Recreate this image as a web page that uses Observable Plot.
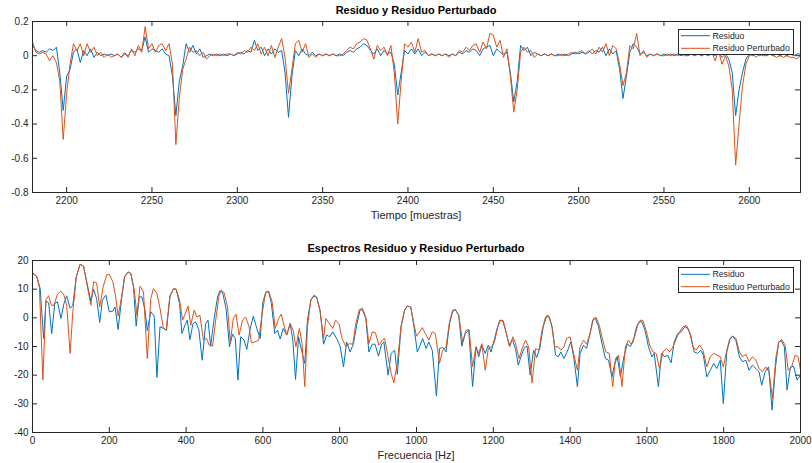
<!DOCTYPE html>
<html><head><meta charset="utf-8">
<script src="https://cdn.jsdelivr.net/npm/d3@7"></script>
<script src="https://cdn.jsdelivr.net/npm/@observablehq/plot@0.6"></script>
<style>
body{margin:0;background:#fff;}
#fig{position:relative;width:812px;height:463px;overflow:hidden;font-family:"Liberation Sans",Arial,Helvetica,sans-serif;color:#262626;background:#fff;}
.t{position:absolute;left:32px;width:768px;text-align:center;white-space:nowrap;line-height:12px;}
.title{font-weight:bold;font-size:11px;color:#000;}
.xl{font-size:11px;color:#262626;}
.plotwrap{position:absolute;left:0;}
#legend{position:absolute;left:0;top:0;pointer-events:none;}
</style></head>
<body><div id="fig">
<div class="plotwrap" id="p1" style="top:0"></div>
<div class="plotwrap" id="p2" style="top:230px"></div>
<div class="t title" style="top:4px">Residuo y Residuo Perturbado</div>
<div class="t xl" style="top:209px">Tiempo [muestras]</div>
<div class="t title" style="top:242px">Espectros Residuo y Residuo Perturbado</div>
<div class="t xl" style="top:449px">Frecuencia [Hz]</div>
<svg id="legend" width="812" height="463"></svg>
</div>
<script>
// ---------- Data ----------
const tiempoInicio = 2180, tiempoPaso = 2;
const residuo = [
 0.06,0.03,0.02,0.03,0.02,0.04,0.03,0.05,-0.10,-0.32,
 -0.12,-0.08,0.02,0.04,-0.04,0.03,0.00,0.04,-0.01,0.02,
 0.00,0.01,0.00,0.01,0.00,0.01,-0.01,0.01,0.00,0.03,
 0.02,0.04,0.03,0.11,0.02,0.04,0.03,0.02,0.04,0.01,
 0.00,-0.12,-0.35,-0.15,-0.06,0.07,0.02,0.06,0.01,0.04,
 -0.01,0.00,0.01,0.00,0.01,0.00,0.01,0.00,0.01,0.00,
 0.01,0.02,0.01,0.03,0.02,0.09,0.03,0.05,0.00,0.04,
 0.01,0.04,0.02,0.03,-0.10,-0.36,-0.12,0.03,0.00,0.04,
 0.01,0.00,0.02,0.00,0.01,0.00,0.01,0.00,0.01,0.00,
 0.01,0.00,0.02,0.03,0.02,0.04,0.05,0.07,0.06,0.03,
 0.01,0.04,0.00,0.03,0.01,0.02,-0.05,-0.23,-0.10,0.03,
 0.01,0.04,0.01,0.04,0.00,0.02,0.00,0.01,0.00,0.01,
 0.00,0.01,0.00,0.01,0.00,0.02,0.01,0.03,0.02,0.04,
 0.03,0.00,0.04,0.05,0.06,0.00,0.04,0.02,0.01,0.02,
 -0.10,-0.27,-0.15,0.06,0.03,0.05,0.00,0.02,0.01,0.00,
 0.01,0.00,0.01,0.00,0.01,0.00,0.01,0.00,0.01,0.02,
 0.01,0.02,0.01,0.03,0.01,0.03,0.02,0.05,0.00,0.04,
 0.01,0.03,-0.08,-0.25,-0.12,0.02,0.07,0.05,0.01,0.02,
 0.00,0.01,0.00,0.01,0.00,0.01,0.00,0.01,0.00,0.01,
 0.00,0.01,0.00,0.01,0.00,0.01,0.00,0.01,0.00,0.01,
 0.00,0.02,-0.01,0.01,-0.02,-0.10,-0.35,-0.20,-0.10,-0.02,
 0.01,0.00,0.01,0.00,0.01,0.00,0.01,0.00,0.01,0.00,
 0.01,0.00,0.01,0.00,0.01,0.01
];
const residuoPerturbado = [
 0.08,0.02,0.01,0.02,0.01,-0.03,0.00,-0.04,-0.15,-0.49,
 -0.22,-0.05,0.07,0.03,0.07,0.00,0.07,0.02,0.05,0.00,
 0.02,-0.01,0.01,-0.01,0.00,0.01,-0.01,0.02,-0.01,0.04,
 0.00,0.06,0.02,0.17,0.04,0.07,0.02,0.06,0.07,0.03,
 0.07,-0.05,-0.52,-0.25,-0.08,-0.02,0.05,0.02,0.03,0.00,
 0.02,-0.02,0.00,0.01,0.00,0.01,0.00,0.01,0.01,0.00,
 0.02,0.01,0.03,0.02,0.05,0.03,0.07,0.01,0.05,0.00,
 0.06,-0.01,0.05,0.10,-0.01,-0.22,-0.08,0.07,0.09,0.02,
 0.07,-0.01,0.01,-0.01,0.01,0.00,0.01,0.00,0.01,0.00,
 0.00,0.01,0.03,0.05,0.04,0.07,0.08,0.10,0.09,0.04,
 -0.02,0.06,0.03,0.05,0.00,0.06,-0.10,-0.40,-0.15,0.07,
 0.05,0.08,0.02,0.10,0.02,0.03,0.00,0.01,0.00,0.01,
 0.00,0.01,-0.01,0.01,0.00,0.03,0.02,0.05,0.03,0.06,
 0.07,0.02,0.08,0.04,0.13,0.12,0.05,0.09,-0.01,0.04,
 -0.12,-0.33,-0.20,0.02,0.05,0.02,0.03,-0.01,0.01,0.00,
 0.01,0.00,0.01,0.00,0.00,0.01,0.00,0.01,0.02,0.01,
 0.02,0.03,0.01,0.02,0.04,0.01,0.05,0.02,0.07,0.00,
 0.06,0.04,-0.05,-0.175,-0.10,0.06,0.04,0.13,0.00,0.03,
 -0.01,0.01,0.00,0.01,0.00,0.00,0.01,0.00,0.01,0.00,
 0.01,0.00,0.00,0.01,0.00,0.01,0.00,0.01,0.00,0.02,
 -0.03,0.03,-0.05,0.00,-0.06,-0.20,-0.64,-0.40,-0.18,-0.05,
 0.00,0.01,-0.01,0.01,0.00,0.00,0.01,0.00,-0.01,0.00,
 -0.01,0.00,-0.01,-0.01,-0.02,0.00
];
// Spectra: [frequency Hz, dB]
const espectroResiduo = [[0,15.7],[11,14.5],[20,10.2],[29,-7.2],[35,5.8],[42,5.3],[50,-5.5],[58,5],[65,5.6],[74,-0.2],[82,5],[89,7.7],[98,3.3],[105,4.4],[114,14.3],[124,18.7],[133,18],[143,11.4],[152,5.8],[159,10],[167,6.7],[175,-1.6],[182,6.2],[191,7.9],[200,2.1],[209,2.3],[215,3.8],[223,-4.1],[232,6.7],[240,14.3],[249,16],[256,15.5],[263,10.8],[270,-2.9],[278,7.3],[285,7.3],[293,2.7],[299,-4.5],[308,2.1],[317,0.6],[324,-20.8],[332,-3.1],[341,-3.7],[349,-4.3],[358,7.6],[367,10.1],[374,10],[383,5],[389,-5.5],[397,-2.6],[403,-0.8],[410,-7.6],[418,-2],[425,-1.4],[433,-4.1],[442,-14.8],[451,-2],[457,-0.8],[464,-9.9],[473,-0.2],[482,7.3],[488,9.4],[495,8.8],[504,3.3],[513,-10.1],[521,-5.7],[528,-7.2],[535,-21.7],[542,-6.6],[551,-7.8],[558,-11],[567,-3.7],[575,0.6],[584,-3.7],[593,-7.2],[600,5.6],[608,9.1],[615,9.1],[622,5],[631,-5.5],[638,-4.3],[645,-7.4],[653,-3.7],[662,-6],[671,-2],[678,-7.8],[685,-21.5],[693,-6.6],[698,-9.9],[709,-15.9],[716,-0.8],[725,6.2],[733,7.6],[740,7.1],[749,2.7],[758,-9.2],[766,-6],[774,-6.6],[782,-4.9],[792,-7.2],[801,-9.9],[810,-17.1],[818,-8.4],[827,-11.9],[836,-9],[844,-2.6],[853,2.7],[859,2.9],[868,-0.2],[876,-11.9],[885,-9.2],[892,-9.2],[901,-13.4],[909,-9.2],[915,-8.4],[926,-20],[934,-12.4],[943,-11.3],[950,-19.7],[960,-3.1],[969,2.7],[976,4.1],[985,3.8],[993,-2.6],[1002,-11.9],[1008,-10.1],[1016,-7.2],[1025,-10.7],[1032,-8.4],[1041,-11.3],[1052,-27.3],[1060,-10.7],[1068,-10.3],[1077,-11.9],[1086,-2],[1094,2.1],[1101,2.9],[1110,0.9],[1118,-9.9],[1127,-5.5],[1136,-4.3],[1146,-24],[1155,-10.1],[1162,-13.6],[1170,-9.5],[1179,-12.4],[1187,-9.5],[1194,-11.9],[1201,-8.4],[1210,-3.7],[1217,-0.8],[1224,-1],[1232,-4.3],[1241,-9.5],[1250,-7.6],[1258,-11],[1265,-16.5],[1272,-13.6],[1281,-10.3],[1288,-9.9],[1296,-20],[1305,-11.3],[1313,-13.8],[1321,-10.7],[1330,-3.1],[1339,0.6],[1346,0.3],[1354,-3.7],[1362,-13],[1369,-13.6],[1376,-11.9],[1384,-14.2],[1393,-11.6],[1402,-8.4],[1410,-14.2],[1419,-24],[1426,-12.4],[1435,-9.5],[1443,-10.7],[1450,-6.6],[1459,-0.8],[1466,-0.2],[1474,-3.1],[1483,-9],[1492,-14.2],[1500,-14.8],[1509,-20.6],[1516,-16.2],[1523,-13.6],[1531,-20.6],[1540,-13.6],[1549,-9],[1556,-10.1],[1564,-8.4],[1573,-3.1],[1580,-1.4],[1587,-1.4],[1595,-4.3],[1604,-10.1],[1613,-13.6],[1619,-12.4],[1630,-24],[1638,-12.4],[1647,-13.6],[1654,-13],[1663,-15.7],[1671,-8.4],[1680,-5.5],[1689,-4.9],[1699,-3.1],[1706,-3.7],[1714,-6],[1723,-11.9],[1732,-12.4],[1740,-11.3],[1747,-13],[1756,-20.6],[1765,-18.3],[1774,-15.9],[1782,-17.7],[1791,-14.8],[1799,-29.9],[1808,-11.9],[1816,-7.6],[1823,-6.4],[1832,-8],[1841,-13.6],[1849,-15.3],[1858,-14.8],[1866,-18.3],[1875,-16.5],[1884,-17.7],[1892,-18.8],[1899,-23.5],[1908,-18.8],[1917,-17.1],[1926,-32.2],[1935,-17.1],[1943,-8.4],[1950,-8],[1958,-10.1],[1965,-25.2],[1974,-17.1],[1982,-16.9],[1991,-21.7],[2000,-20]];
const espectroPerturbado = [[0,15.5],[11,14.5],[18,10.6],[27,-21.7],[35,6.4],[42,7.7],[49,4.4],[56,4.4],[65,8.3],[74,9.3],[82,7.9],[89,4.4],[98,-12.4],[105,2.1],[114,14.3],[124,18.7],[133,18],[143,10.8],[152,4.4],[159,12.6],[167,12.2],[175,3.8],[184,10.8],[193,14.9],[200,15.2],[209,12.6],[216,7.9],[223,0.6],[232,7.3],[240,14.5],[249,16],[256,15.5],[265,9.7],[272,0.9],[280,11],[289,9.1],[299,-14.2],[308,6.7],[315,10.2],[324,8.5],[332,3.3],[341,-3.7],[348,-4.3],[358,7.6],[367,10.1],[374,10],[383,6.2],[391,-0.8],[398,1.5],[405,4.1],[412,-2.6],[421,2.7],[428,0.3],[436,0.9],[445,-7.8],[453,-7.2],[460,-9.5],[469,-9.9],[477,-0.8],[486,7.9],[492,9.7],[499,8.7],[508,3.8],[515,-8.4],[523,-0.2],[530,1.3],[538,-6],[547,-0.8],[555,0.3],[564,-3.1],[570,-8.7],[579,-8.4],[589,-7.8],[598,1.5],[607,8.7],[615,9.3],[624,5.6],[632,-3.7],[641,-0.2],[648,1.3],[655,-2.6],[662,-6],[671,-2],[679,-4.5],[686,-10.1],[695,-3.7],[702,-9],[709,-24],[716,-3.1],[725,6.4],[733,7.9],[740,7.3],[749,2.1],[758,-7.2],[764,-0.2],[773,-2],[782,-3.7],[789,-0.8],[798,-2],[806,-7.2],[816,-10.1],[825,-9],[834,-9.2],[842,-2],[851,2.9],[859,3.3],[868,0.3],[876,-9],[885,-4.9],[893,-5.2],[902,-9.5],[911,-7.8],[917,-7.2],[926,-13.6],[934,-19.4],[941,-22.7],[950,-15.9],[960,-2.6],[969,2.7],[976,4.1],[985,3.8],[993,-2],[1000,-6.4],[1008,-4.9],[1015,-3.4],[1023,-5.5],[1032,-7.8],[1041,-4.9],[1049,-5.5],[1060,-15.9],[1068,-11.3],[1077,-10.1],[1086,-1.4],[1094,2.7],[1101,2.9],[1110,0.9],[1120,-8.4],[1129,-4.3],[1137,-4.1],[1146,-17.1],[1155,-10.1],[1162,-12.4],[1170,-9],[1179,-18.3],[1187,-10.7],[1196,-10.1],[1203,-8.4],[1212,-3.1],[1219,-0.8],[1226,-1],[1234,-5.5],[1243,-10.1],[1251,-6.6],[1258,-9],[1267,-14.2],[1275,-10.7],[1284,-7.8],[1292,-10.1],[1301,-22.7],[1310,-10.7],[1319,-11.3],[1327,-4.3],[1336,0.3],[1343,0.9],[1352,-2.6],[1360,-10.1],[1369,-10.1],[1376,-11.3],[1384,-10.1],[1391,-7.2],[1400,-6.6],[1409,-12.4],[1419,-18.3],[1426,-10.1],[1435,-7.8],[1443,-9.2],[1452,-5.5],[1461,-0.2],[1468,0.1],[1476,-2.6],[1485,-7.8],[1493,-11.9],[1502,-12.4],[1511,-24],[1518,-14.2],[1526,-13],[1535,-24],[1544,-10.1],[1552,-7.8],[1559,-9.2],[1568,-6.6],[1576,-2.6],[1583,-0.8],[1590,-1],[1599,-4.9],[1607,-9.5],[1616,-11.9],[1624,-12.4],[1633,-17.7],[1642,-11.9],[1651,-10.7],[1659,-11.9],[1668,-10.1],[1677,-7.2],[1685,-4.9],[1694,-3.1],[1703,-2.6],[1711,-4.9],[1720,-10.1],[1728,-11.3],[1737,-9.5],[1746,-11.3],[1756,-17.1],[1765,-13.6],[1774,-12.4],[1782,-13],[1791,-13.6],[1799,-17.1],[1808,-11.3],[1816,-7.2],[1823,-6.4],[1832,-7.2],[1841,-11.9],[1849,-13.6],[1858,-12.7],[1866,-15.3],[1875,-13.6],[1884,-14.8],[1892,-17.7],[1901,-18.8],[1909,-17.1],[1918,-18.8],[1927,-28.1],[1936,-13.6],[1944,-8.4],[1951,-7.6],[1960,-9.5],[1968,-18.3],[1977,-17.1],[1986,-13],[1994,-13.6],[2000,-18.3]];

const ticksTiempo = [2200,2250,2300,2350,2400,2450,2500,2550,2600];
const ticksResiduo = [-0.8,-0.6,-0.4,-0.2,0,0.2];
const ticksFrecuencia = [0,200,400,600,800,1000,1200,1400,1600,1800,2000];
const ticksDb = [-40,-30,-20,-10,0,10,20];
const nombres = ["Residuo","Residuo Perturbado"];
const colores = ["#0072BD","#D95319"];

// ---------- Chart ----------
const AX = "#262626";
function chart({xDomain, yDomain, xTicks, yTicks, height, mt, mb, s1, s2, padX}) {
  const W = 812, ml = 32, mr = 12;
  const ph = height - mt - mb, pw = W - ml - mr;
  const fmt = d => String(d);
  return Plot.plot({
    width: W, height, marginLeft: ml, marginRight: mr, marginTop: mt, marginBottom: mb,
    style: {fontFamily: '"Liberation Sans", Arial, Helvetica, sans-serif', fontSize: "10px", color: AX, background: "transparent", overflow: "visible"},
    x: {domain: xDomain, ticks: xTicks, tickSize: 0, tickPadding: padX, tickFormat: fmt, label: null},
    y: {domain: yDomain, ticks: yTicks, tickSize: 0, tickPadding: 4, tickFormat: fmt, label: null},
    marks: [
      Plot.line(s1, {x: "x", y: "y", stroke: colores[0], strokeWidth: 1, clip: true}),
      Plot.line(s2, {x: "x", y: "y", stroke: colores[1], strokeWidth: 1, clip: true}),
      Plot.tickX(xTicks, {x: d => d, insetTop: ph - 5, stroke: AX}),
      Plot.tickX(xTicks, {x: d => d, insetBottom: ph - 5, stroke: AX}),
      Plot.tickY(yTicks, {y: d => d, insetRight: pw - 5, stroke: AX}),
      Plot.tickY(yTicks, {y: d => d, insetLeft: pw - 5, stroke: AX}),
      Plot.frame({stroke: AX})
    ]
  });
}

const tRes = residuo.map((v, i) => ({x: tiempoInicio + i * tiempoPaso, y: v}));
const tPer = residuoPerturbado.map((v, i) => ({x: tiempoInicio + i * tiempoPaso, y: v}));
const fRes = espectroResiduo.map(([x, y]) => ({x, y}));
const fPer = espectroPerturbado.map(([x, y]) => ({x, y}));

document.getElementById("p1").append(chart({
  xDomain: [2180, 2630], yDomain: [-0.8, 0.2], xTicks: ticksTiempo, yTicks: ticksResiduo,
  height: 230, mt: 21, mb: 38, s1: tRes, s2: tPer, padX: 4
}));
document.getElementById("p2").append(chart({
  xDomain: [0, 2000], yDomain: [-40, 20], xTicks: ticksFrecuencia, yTicks: ticksDb,
  height: 233, mt: 30, mb: 31, s1: fRes, s2: fPer, padX: 4
}));

// ---------- Legends ----------
const ns = "http://www.w3.org/2000/svg";
const leg = document.getElementById("legend");
function el(tag, attrs, parent) { const e = document.createElementNS(ns, tag); for (const k in attrs) e.setAttribute(k, attrs[k]); parent.appendChild(e); return e; }
function legend(x0, y0, w, h, rows) {
  el("rect", {x: x0, y: y0, width: w, height: h, fill: "#fff", stroke: AX, "stroke-width": 1}, leg);
  rows.forEach((ry, i) => {
    el("line", {x1: x0 + 2.5, x2: x0 + 31.5, y1: ry, y2: ry, stroke: colores[i], "stroke-width": 1}, leg);
    const t = el("text", {x: x0 + 34, y: ry, "dominant-baseline": "central", "font-size": "8.7px", fill: AX, "font-family": '"Liberation Sans", Arial, sans-serif'}, leg);
    t.textContent = nombres[i];
  });
}
legend(678.5, 29.5, 115, 25, [35.7, 48.3]);
legend(678.5, 267.5, 115, 25, [274.3, 286.7]);
</script>
</body></html>
